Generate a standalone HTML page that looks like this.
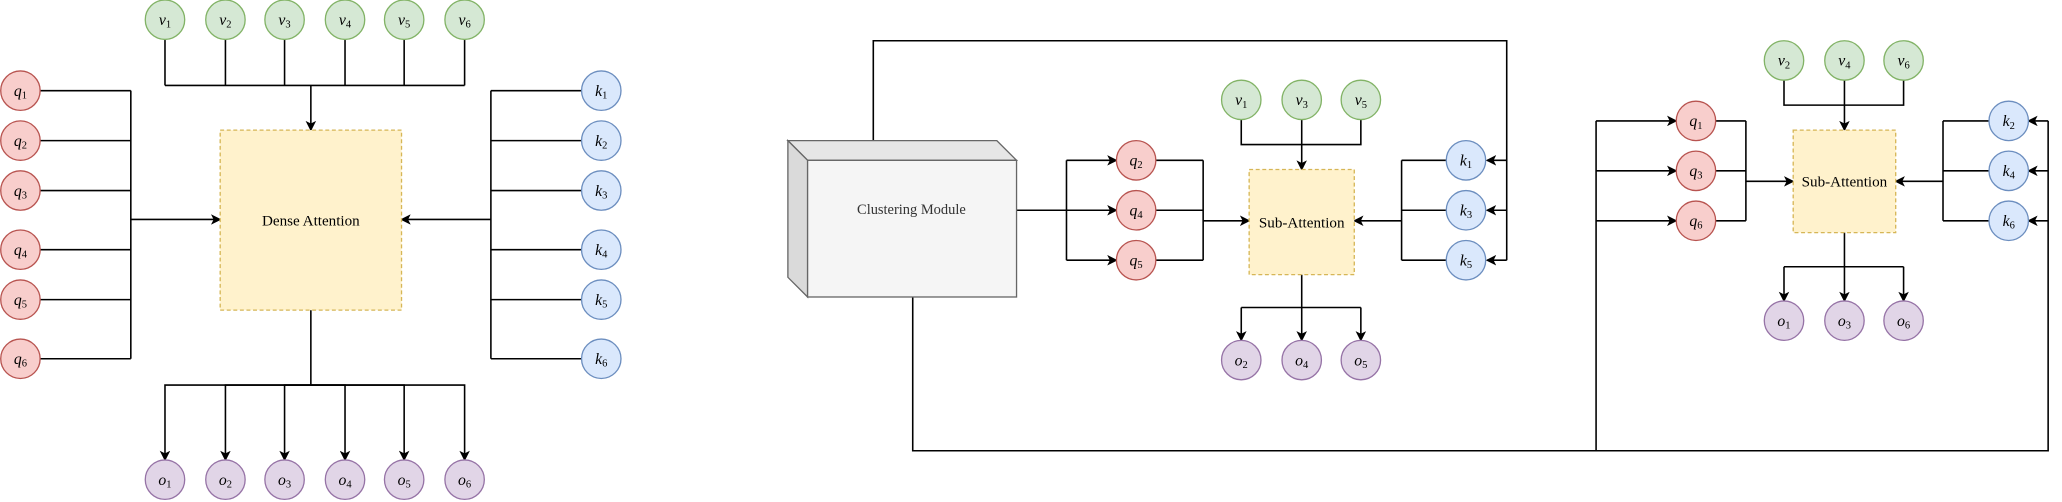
<!DOCTYPE html>
<html><head><meta charset="utf-8"><style>
html,body{margin:0;padding:0;background:#fff;}
svg{display:block;}
text{font-family:"Liberation Serif",serif;}
</style></head><body>
<svg id="d" width="2062" height="502" viewBox="0 0 1568 382" xmlns="http://www.w3.org/2000/svg">
<defs><marker id="ar" markerWidth="8" markerHeight="8" refX="7" refY="4" orient="auto" markerUnits="userSpaceOnUse"><path d="M0,0 L8,4 L0,8 L2,4 z" fill="#000"/></marker></defs>
<g id="lines" fill="none" stroke="#000" stroke-width="1.2"></g>
<g id="shapes"></g>
</svg>
<script>
const NS="http://www.w3.org/2000/svg";
const L=document.getElementById('lines'),S=document.getElementById('shapes');
const colors={q:['#f8cecc','#b85450'],v:['#d5e8d4','#82b366'],k:['#dae8fc','#6c8ebf'],o:['#e1d5e7','#9673a6']};
function line(pts,arrow){const p=document.createElementNS(NS,'polyline');p.setAttribute('points',pts.map(a=>a.join(',')).join(' '));if(arrow)p.setAttribute('marker-end','url(#ar)');L.appendChild(p);return p;}
function node(t,i,x,y){const g=document.createElementNS(NS,'g');


const c=document.createElementNS(NS,'circle');c.setAttribute('cx',x);c.setAttribute('cy',y);c.setAttribute('r',15);c.setAttribute('fill',colors[t][0]);c.setAttribute('stroke',colors[t][1]);g.appendChild(c);
const tx=document.createElementNS(NS,'text');tx.setAttribute('x',x);tx.setAttribute('y',y+4);tx.setAttribute('text-anchor','middle');tx.setAttribute('font-size','12');
tx.innerHTML='<tspan font-style="italic">'+t+'</tspan><tspan font-size="8" dy="2">'+i+'</tspan>';g.appendChild(tx);S.appendChild(g);}
function box(name,x,y,w,h,label){const g=document.createElementNS(NS,'g');


const r=document.createElementNS(NS,'rect');r.setAttribute('x',x);r.setAttribute('y',y);r.setAttribute('width',w);r.setAttribute('height',h);r.setAttribute('fill','#fff2cc');r.setAttribute('stroke','#d6b656');r.setAttribute('stroke-dasharray','3,2');g.appendChild(r);
const t=document.createElementNS(NS,'text');t.setAttribute('x',x+w/2);t.setAttribute('y',y+h/2+4);t.setAttribute('text-anchor','middle');t.setAttribute('font-size','11.5');t.textContent=label;g.appendChild(t);S.appendChild(g);}
// ---- Dense ----
const X=[125,171,216,262,307,353],QY=[69,107,145,190,228,273];
X.forEach((x,i)=>{line([[x,30],[x,65]]);line([[236,293],[x,293],[x,350]],true);});
line([[125,65],[353,65]]);line([[236,65],[236,99]],true);
QY.forEach(y=>{line([[30,y],[99,y]]);line([[442,y],[373,y]]);});
line([[99,69],[99,273]]);line([[373,69],[373,273]]);
line([[99,167],[167,167]],true);line([[373,167],[305,167]],true);
line([[236,236],[236,293]]);
box('dense-attention-box',167,99,138,137,'Dense Attention');
X.forEach((x,i)=>{node('v',i+1,x,15);node('o',i+1,x,365);});
QY.forEach((y,i)=>{node('q',i+1,15,y);node('k',i+1,457,y);});
// ---- Middle ----
line([[664,107],[664,31],[1146,31],[1146,198]]);
[122,160,198].forEach(y=>{line([[1146,y],[1131,y]],true);line([[1100,y],[1066,y]]);line([[811,y],[849,y]],true);line([[879,y],[915,y]]);});
line([[773,160],[811,160]]);line([[811,122],[811,198]]);line([[915,122],[915,198]]);line([[1066,122],[1066,198]]);
line([[915,168],[950,168]],true);line([[1066,168],[1030,168]],true);
line([[944,91],[944,110],[1035,110],[1035,91]]);line([[990,91],[990,129]],true);
line([[990,209],[990,234]]);line([[944,234],[1035,234]]);[944,990,1035].forEach(x=>line([[x,234],[x,259]],true));
line([[694,226],[694,343],[1558,343],[1558,92]]);
line([[1214,343],[1214,92]]);
[92,130,168].forEach(y=>{line([[1214,y],[1275,y]],true);line([[1305,y],[1328,y]]);line([[1513,y],[1478,y]]);line([[1558,y],[1543,y]],true);});
line([[1328,92],[1328,168]]);line([[1478,92],[1478,168]]);
line([[1328,138],[1364,138]],true);line([[1478,138],[1442,138]],true);
line([[1357,61],[1357,80],[1448,80],[1448,61]]);line([[1403,61],[1403,99]],true);
line([[1403,177],[1403,203]]);line([[1357,203],[1448,203]]);[1357,1403,1448].forEach(x=>line([[x,203],[x,229]],true));
// clustering module
const cm=document.createElementNS(NS,'g');


cm.innerHTML='<path d="M599,107 L758,107 L773,122 L614,122 Z" fill="#e6e6e6" stroke="#666"/><path d="M599,107 L614,122 L614,226 L599,211 Z" fill="#dadada" stroke="#666"/><rect x="614" y="122" width="159" height="104" fill="#f5f5f5" stroke="#666"/><text x="693" y="163" text-anchor="middle" font-size="11" fill="#333">Clustering Module</text>';
S.appendChild(cm);
box('sub-attention-box-1',950,129,80,80,'Sub-Attention');
box('sub-attention-box-2',1364,99,78,78,'Sub-Attention');
[[1,944],[3,990],[5,1035]].forEach(a=>node('v',a[0],a[1],76));
[[2,944],[4,990],[5,1035]].forEach(a=>node('o',a[0],a[1],274));
[[2,122],[4,160],[5,198]].forEach(a=>node('q',a[0],864,a[1]));
[[1,122],[3,160],[5,198]].forEach(a=>node('k',a[0],1115,a[1]));
[[2,1357],[4,1403],[6,1448]].forEach(a=>node('v',a[0],a[1],46));
[[1,1357],[3,1403],[6,1448]].forEach(a=>node('o',a[0],a[1],244));
[[1,92],[3,130],[6,168]].forEach(a=>node('q',a[0],1290,a[1]));
[[2,92],[4,130],[6,168]].forEach(a=>node('k',a[0],1528,a[1]));
</script>
</body></html>
